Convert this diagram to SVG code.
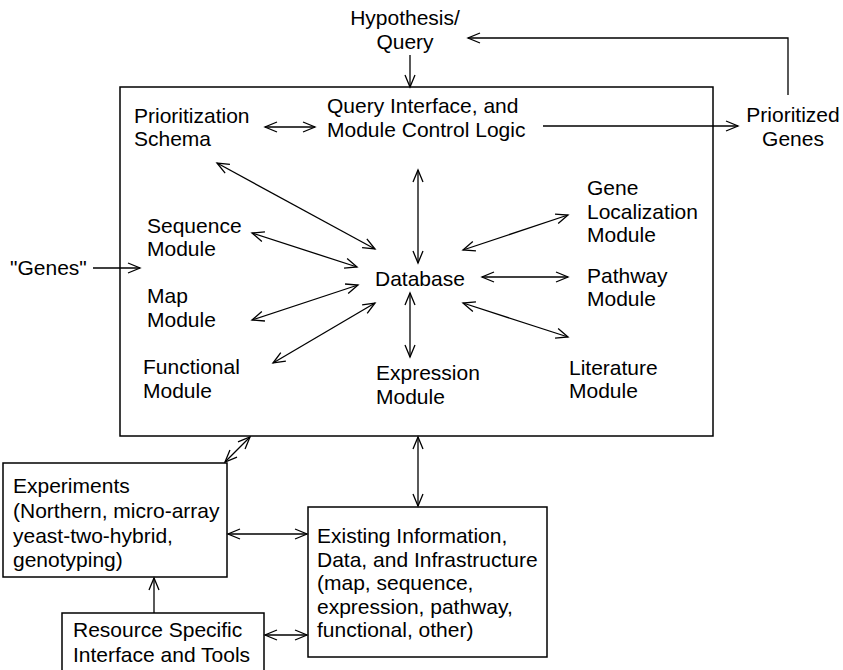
<svg xmlns="http://www.w3.org/2000/svg" width="843" height="670" viewBox="0 0 843 670">
<defs>
<marker id="ah" markerUnits="userSpaceOnUse" markerWidth="14" markerHeight="12" refX="12" refY="5" orient="auto-start-reverse" overflow="visible">
<path d="M0,0 L12,5 L0,10" fill="none" stroke="#000" stroke-width="1.3"/>
</marker>
<style>
text{font-family:"Liberation Sans",Arial,Helvetica,sans-serif;font-size:21px;fill:#000}
.box{fill:none;stroke:#000;stroke-width:1.5}
.c line,.c polyline{stroke:#000;stroke-width:1.3;fill:none}
.one{marker-end:url(#ah)}
.two{marker-start:url(#ah);marker-end:url(#ah)}
.mid{text-anchor:middle}
</style>
</defs>
<rect width="843" height="670" fill="#fff"/>
<g id="main-box"><rect class="box" x="120" y="87" width="593" height="349"/></g>
<g id="hypothesis"><text class="mid" x="405" y="25">Hypothesis/</text><text class="mid" x="405" y="49">Query</text></g>
<g id="query-interface"><text x="327" y="113">Query Interface, and</text><text x="327" y="137">Module Control Logic</text></g>
<g id="prioritization"><text x="134" y="123">Prioritization</text><text x="134" y="146">Schema</text></g>
<g id="prioritized-genes"><text class="mid" x="793" y="122">Prioritized</text><text class="mid" x="793" y="146">Genes</text></g>
<g id="genes-input"><text x="10" y="275">"Genes"</text></g>
<g id="sequence"><text x="147" y="233">Sequence</text><text x="147" y="256">Module</text></g>
<g id="map"><text x="147" y="303">Map</text><text x="147" y="327">Module</text></g>
<g id="functional"><text x="143" y="374">Functional</text><text x="143" y="398">Module</text></g>
<g id="database"><text x="375" y="286">Database</text></g>
<g id="expression"><text x="376" y="380">Expression</text><text x="376" y="404">Module</text></g>
<g id="gene-localization"><text x="587" y="195">Gene</text><text x="587" y="218.5">Localization</text><text x="587" y="242">Module</text></g>
<g id="pathway"><text x="587" y="283">Pathway</text><text x="587" y="306">Module</text></g>
<g id="literature"><text x="569" y="375">Literature</text><text x="569" y="398">Module</text></g>
<g id="experiments"><rect class="box" x="3" y="463" width="224" height="114"/><text x="13" y="493">Experiments</text><text x="13" y="518">(Northern, micro-array</text><text x="13" y="543">yeast-two-hybrid,</text><text x="13" y="567">genotyping)</text></g>
<g id="existing"><rect class="box" x="308" y="507" width="239" height="150"/><text x="317" y="543">Existing Information,</text><text x="317" y="567">Data, and Infrastructure</text><text x="317" y="590">(map, sequence,</text><text x="317" y="614">expression, pathway,</text><text x="317" y="637">functional, other)</text></g>
<g id="resource"><rect class="box" x="62" y="613" width="202" height="60"/><text x="73" y="637">Resource Specific</text><text x="73" y="662">Interface and Tools</text></g>
<g id="connectors" class="c">
<line class="one" x1="410" y1="55" x2="410" y2="87"/>
<polyline class="one" points="788,95 788,38 468,38"/>
<line class="two" x1="265" y1="127" x2="315" y2="127"/>
<line class="one" x1="543" y1="126" x2="738" y2="126"/>
<line class="two" x1="418" y1="170" x2="418" y2="263"/>
<line class="two" x1="217" y1="163" x2="375" y2="249"/>
<line class="two" x1="252" y1="233" x2="357" y2="267"/>
<line class="two" x1="252" y1="320" x2="358" y2="285"/>
<line class="two" x1="273" y1="363" x2="375" y2="303"/>
<line class="one" x1="93" y1="268" x2="140" y2="268"/>
<line class="two" x1="410" y1="293" x2="410" y2="357"/>
<line class="two" x1="463" y1="250" x2="568" y2="215"/>
<line class="two" x1="482" y1="277" x2="568" y2="277"/>
<line class="two" x1="463" y1="303" x2="568" y2="337"/>
<line class="two" x1="250" y1="437" x2="225" y2="462"/>
<line class="two" x1="418" y1="437" x2="418" y2="506"/>
<line class="two" x1="228" y1="534" x2="307" y2="534"/>
<line class="one" x1="154" y1="613" x2="154" y2="578"/>
<line class="two" x1="265" y1="635" x2="307" y2="635"/>
</g>
</svg>
